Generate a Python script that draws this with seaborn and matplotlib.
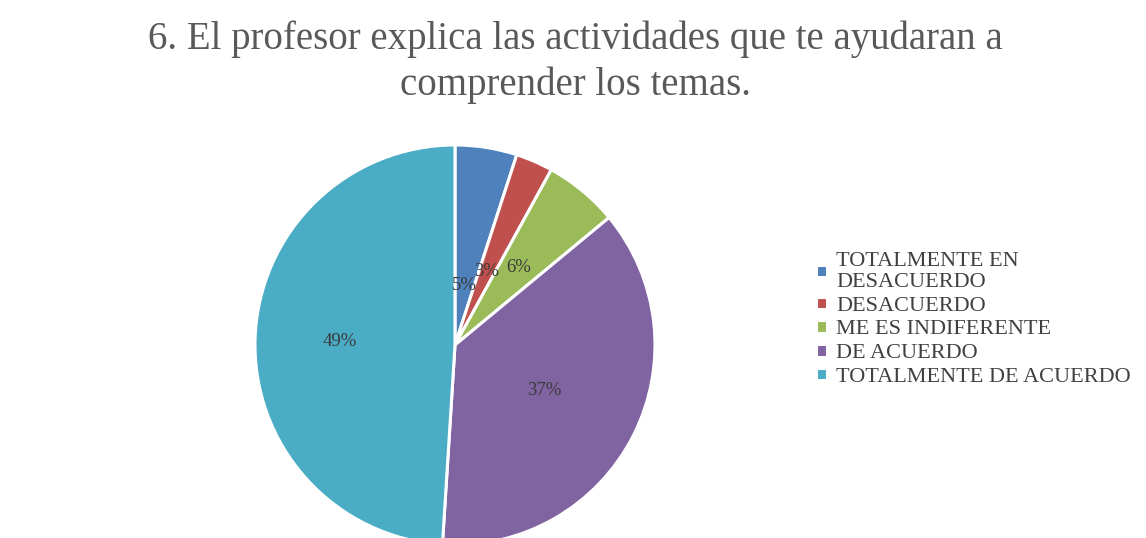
import matplotlib
matplotlib.use("Agg")
import matplotlib.pyplot as plt
import seaborn as sns
import numpy as np

categories = ["TOTALMENTE EN\nDESACUERDO", "DESACUERDO", "ME ES INDIFERENTE",
              "DE ACUERDO", "TOTALMENTE DE ACUERDO"]
values = [5, 3, 6, 37, 49]
pct_labels = ["5%", "3%", "6%", "37%", "49%"]
colors = ["#4F81BD", "#C0504D", "#9BBB59", "#8064A2", "#4BACC6"]
label_radius = [0.30, 0.40, 0.50, 0.50, 0.575]

sns.set_theme(style="white")
plt.rcParams['font.family'] = ['Liberation Serif', 'DejaVu Serif']

W, H = 1146, 538
fig = plt.figure(figsize=(W / 100, H / 100), dpi=100)
fig.patch.set_facecolor("white")

cx, cy, R = 455, 345, 200
ax = fig.add_axes([0, 0, 1, 1])

wedges, _ = ax.pie(values, colors=colors, startangle=90, counterclock=False,
                   radius=1.0, wedgeprops=dict(edgecolor="white", linewidth=2.2))
ax.set_aspect("auto")
ax.set_xlim(-cx / R, (W - cx) / R)
ax.set_ylim((cy - H) / R, cy / R)
ax.axis("off")

for w, lab, r in zip(wedges, pct_labels, label_radius):
    ang = np.deg2rad((w.theta1 + w.theta2) / 2)
    ax.text(r * np.cos(ang), r * np.sin(ang), lab, ha="center", va="center",
            fontsize=13.5, color="#3a3a3a")

fig.text(0.502, 1 - 20 / H, "6. El profesor explica las actividades que te ayudaran a\ncomprender los temas.",
         ha="center", va="top", fontsize=28, color="#595959", linespacing=1.3)

leg = fig.legend(wedges, categories, loc="upper left", bbox_to_anchor=(816 / W, 1 - 252 / H),
                 frameon=False, fontsize=16, handlelength=0.5, handleheight=0.5,
                 handletextpad=0.4, labelspacing=0.2, borderaxespad=0, borderpad=0)
for t in leg.get_texts():
    t.set_color("#404040")
    t.set_linespacing(1.15)

fig.savefig("out.png", dpi=100, facecolor="white")
